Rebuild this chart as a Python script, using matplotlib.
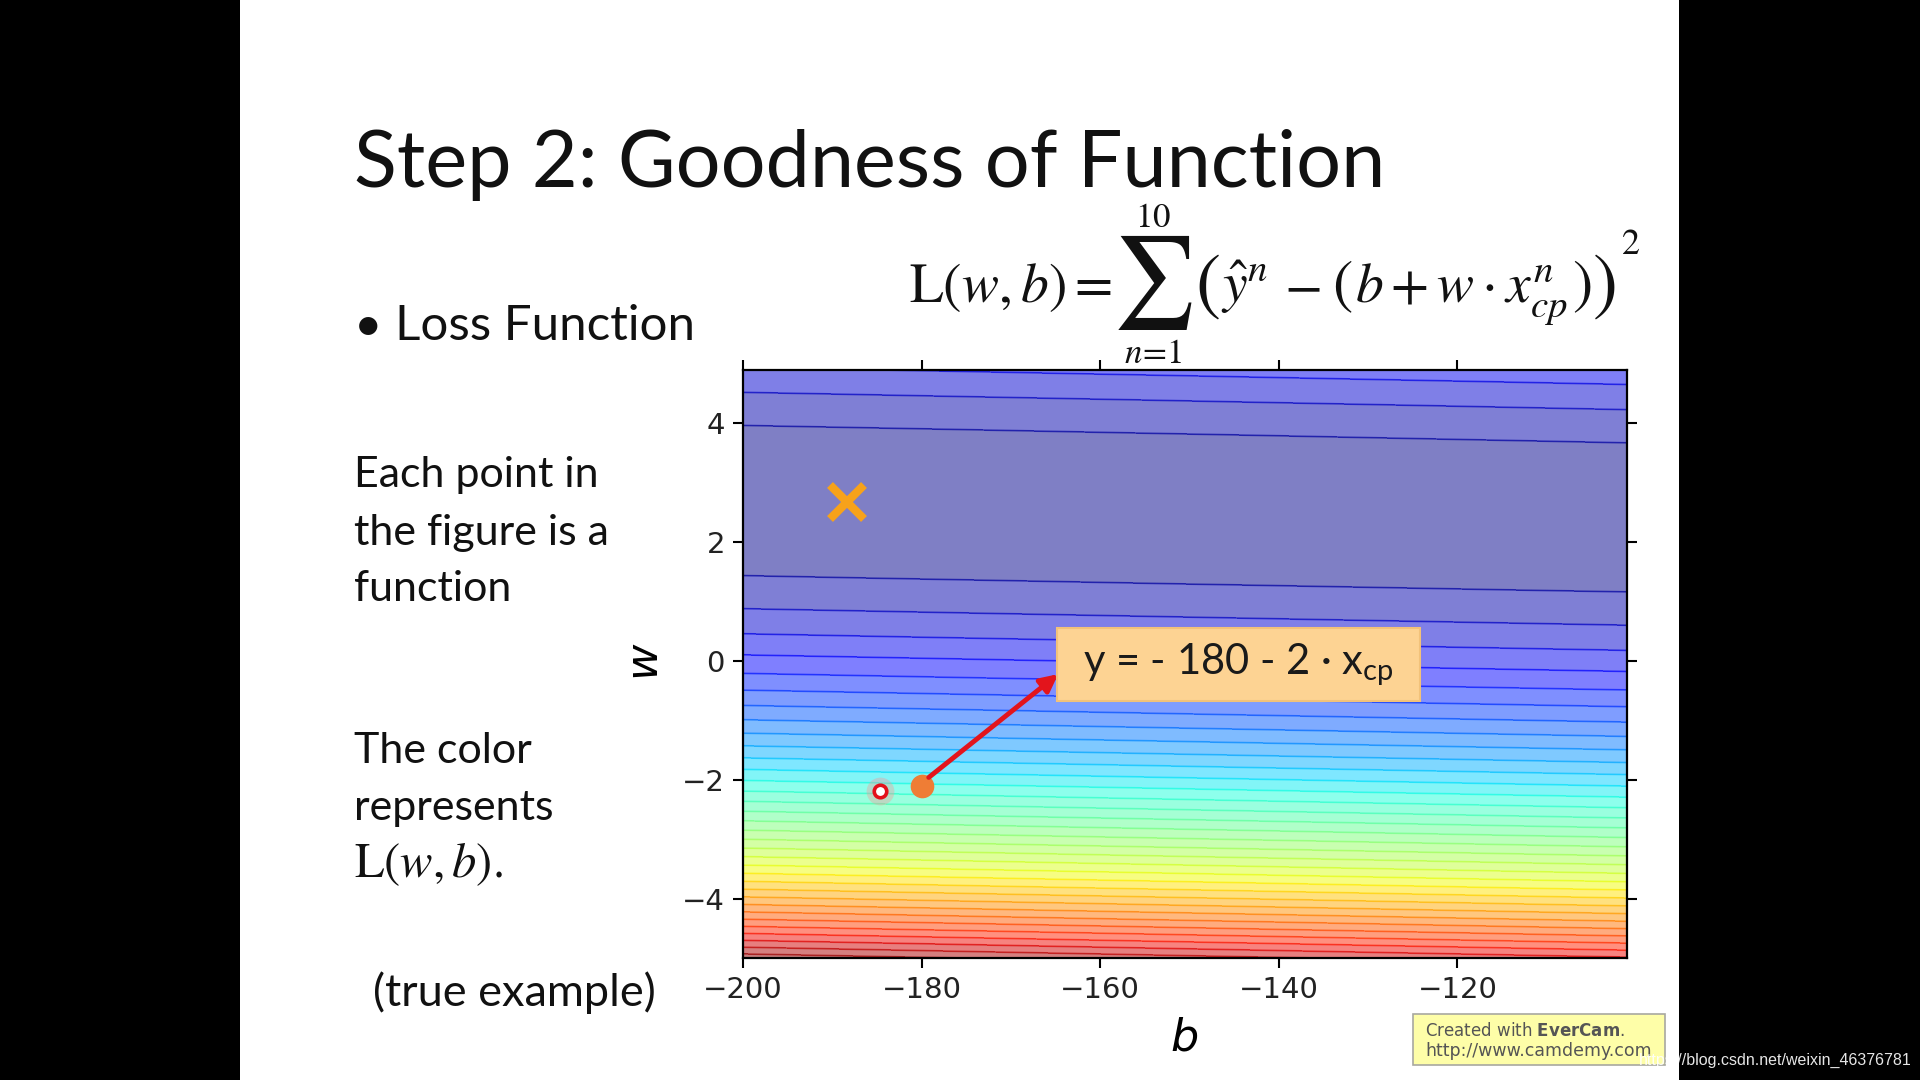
import numpy as np
import matplotlib
matplotlib.use("Agg")
import matplotlib.pyplot as plt
from matplotlib.patches import Rectangle

# pokemon training data (x_cp, y_cp after evolution), 10 samples
x_data = [338., 333., 328., 207., 226., 25., 179., 60., 208., 606.]
y_data = [640., 633., 619., 393., 428., 27., 193., 66., 226., 1591.]

# grid of (b, w)
b_grid = np.arange(-200, -100, 1)
w_grid = np.arange(-5, 5, 0.1)

# marked points
best_point = (-188.4, 2.67)
chosen_point = (-180, -2.1)
nearby_point = (-184.7, -2.18)

x_ticks = [-200, -180, -160, -140, -120]
y_ticks = [-4, -2, 0, 2, 4]

W, H = 1920, 1080
TEXT_FONT = "Lato"
INK = "#111111"


def fig_xy(x, y):
    return x / W, 1 - y / H


def math_piece(x, y, s, size, ha="left", va="baseline"):
    fig.text(*fig_xy(x, y), s, fontsize=size, math_fontfamily="stix",
             ha=ha, va=va, color=INK)


B, Wt = np.meshgrid(b_grid, w_grid)
Z = np.zeros_like(B)
for xn, yn in zip(x_data, y_data):
    Z = Z + (yn - B - Wt * xn) ** 2
Z = Z / len(x_data)

plt.rcParams["mathtext.fontset"] = "dejavusans"

fig = plt.figure(figsize=(19.2, 10.8), dpi=100, facecolor="black")
slide = Rectangle((240 / W, 0), (1679 - 240) / W, 1, transform=fig.transFigure,
                  facecolor="white", edgecolor="none", zorder=-5)
fig.patches.append(slide)

ax = fig.add_axes([743 / W, 1 - 958 / H, (1627 - 743) / W, (958 - 370) / H])
ax.contourf(B, Wt, Z, 50, alpha=0.5, cmap=plt.get_cmap("jet"))
ax.contour(B, Wt, Z, 50, alpha=0.45, cmap=plt.get_cmap("jet"), linewidths=1.4)

ax.plot(*best_point, "x", ms=24, mew=6, color="#f7a21b")
ax.plot(*nearby_point, "o", ms=20, color="#ff9090", alpha=0.35, mec="none")
ax.plot(*nearby_point, "o", ms=9, mfc="white", mec="#e3101a", mew=2.6)
ax.annotate("", xy=(-164.7, -0.22), xytext=(-179.2, -1.96),
            arrowprops=dict(arrowstyle="-|>", color="#e3141c", lw=3.5,
                            mutation_scale=26, shrinkA=0, shrinkB=0))
ax.plot(*chosen_point, "o", ms=16, color="#ef7d35")

box = Rectangle((-164.8, -0.68), 40.6, 1.24, facecolor="#fdd393",
                edgecolor="#f2c27a", lw=1.5, zorder=5)
ax.add_patch(box)
ax.text(-144.5, -0.05, "y = - 180 - 2 · x$_\\mathregular{cp}$", ha="center",
        va="center", fontsize=30, family=TEXT_FONT, color="#1a1a1a", zorder=6)

ax.set_xlim(-200, -101)
ax.set_ylim(-5, 4.9)
ax.set_xticks(x_ticks)
ax.set_yticks(y_ticks)
ax.tick_params(direction="out", length=7, width=1.5, labelsize=21, pad=6,
               top=True, right=True, labeltop=False, labelright=False,
               colors="black", labelcolor="#222222")
for sp in ax.spines.values():
    sp.set_linewidth(1.6)

ax.set_xlabel("$b$", fontsize=32, va="center")
ax.set_ylabel("$w$", fontsize=32, va="center")
ax.xaxis.set_label_coords((1184 - 743) / 884, (958 - 1038) / 588)
ax.yaxis.set_label_coords((645 - 743) / 884, (958 - 662) / 588)

# slide text
fig.text(*fig_xy(354, 165), "Step 2: Goodness of Function", fontsize=57,
         family=TEXT_FONT, va="center", ha="left", color=INK)
fig.text(*fig_xy(354, 326), "• Loss Function", fontsize=35.5,
         family=TEXT_FONT, va="center", ha="left", color=INK)

# loss formula, laid out piece by piece (big sum and big brackets)
base = 302
math_piece(909, base, r"$\mathrm{L}(w,b)=$", 40)
math_piece(1152, 283, r"$\sum$", 66, ha="center", va="center")
math_piece(1153, 217, r"$10$", 25, ha="center", va="center")
math_piece(1153, 353, r"$n\!=\!1$", 25, ha="center", va="center")
math_piece(1207, 285, r"$($", 54, ha="center", va="center")
math_piece(1221, base, r"$\hat{y}^n$", 40)
math_piece(1302, base, r"$-$", 40, ha="center")
math_piece(1342, 286, r"$($", 44, ha="center", va="center")
math_piece(1355, base, r"$b+w\cdot x_{cp}^n$", 40)
math_piece(1582, 286, r"$)$", 44, ha="center", va="center")
math_piece(1604, 285, r"$)$", 54, ha="center", va="center")
math_piece(1631, 244, r"$2$", 26, ha="center", va="center")

body = [("Each point in", 487), ("the figure is a", 545), ("function", 601),
        ("The color", 763), ("represents", 820)]
for s, yb in body:
    fig.text(*fig_xy(354, yb), s, fontsize=31, family=TEXT_FONT,
             va="baseline", ha="left", color=INK)
fig.text(*fig_xy(354, 877), r"$\mathrm{L}(w,b).$", fontsize=35,
         math_fontfamily="stix", va="baseline", ha="left", color=INK)
fig.text(*fig_xy(373, 1006), "(true example)", fontsize=32.5, family=TEXT_FONT,
         va="baseline", ha="left", color=INK)

# recorder watermark
wm = Rectangle((1413 / W, 1 - 1065 / H), (1665 - 1413) / W, 51 / H,
               transform=fig.transFigure, facecolor="#fefea8",
               edgecolor="#a8a8a0", lw=1.2, zorder=1)
fig.patches.append(wm)
fig.text(*fig_xy(1425, 1031), r"Created with $\mathbf{EverCam}$.", fontsize=12,
         family="DejaVu Sans", color="#555555", va="center", ha="left")
fig.text(*fig_xy(1425, 1051), "http://www.camdemy.com", fontsize=12.5,
         family="DejaVu Sans", color="#555555", va="center", ha="left")

fig.text(*fig_xy(1912, 1060), "https://blog.csdn.net/weixin_46376781",
         fontsize=11.5, family="Liberation Sans", color="white", alpha=0.9,
         va="center", ha="right")

fig.savefig("out.png", dpi=100, facecolor=fig.get_facecolor())
